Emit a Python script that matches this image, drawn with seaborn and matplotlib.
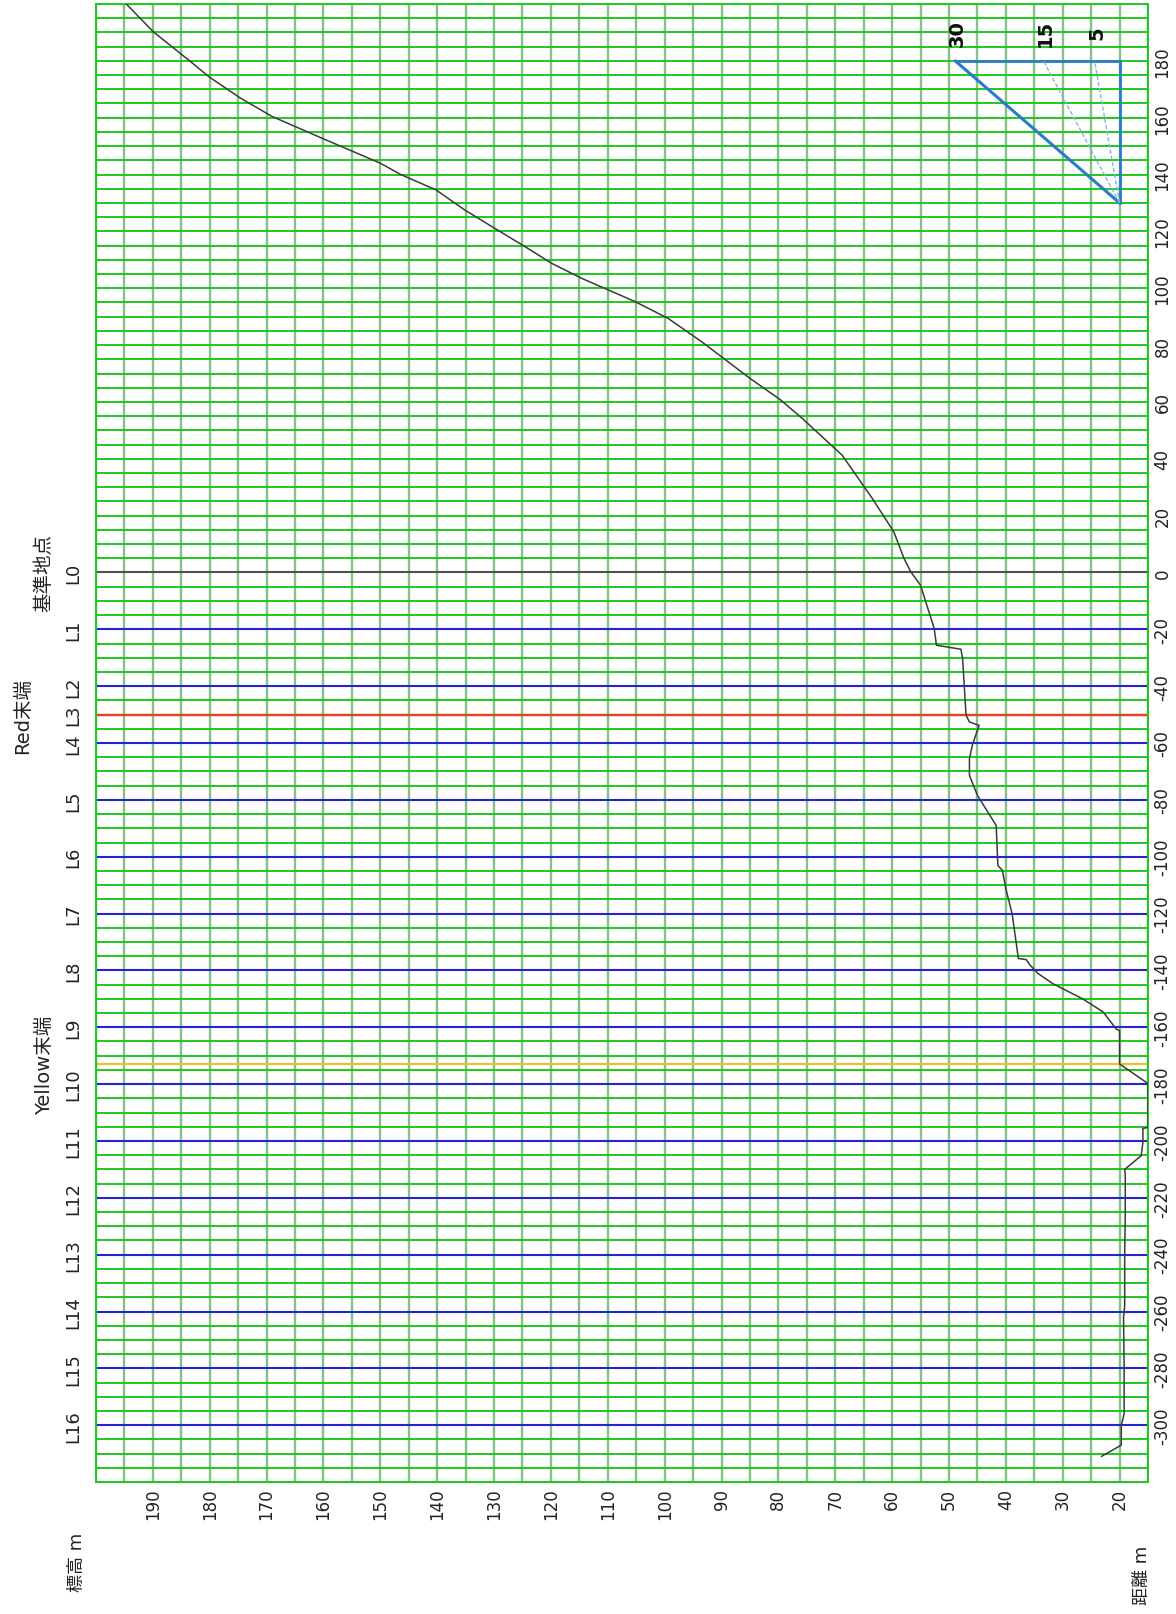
import matplotlib
matplotlib.use("Agg")
import matplotlib.pyplot as plt
from matplotlib.ticker import MultipleLocator, FixedLocator
import pandas as pd
import seaborn as sns

# ---------------- data ----------------
profile_distance = [-311, -307, -300, -296, -280, -262, -258, -240, -225, -212, -210,
                    -205.2, -200.5, -195.6, -195.2, -180, -179.4, -172.9, -161.2, -160.6,
                    -154.6, -150, -144.7, -141, -138, -136.2, -135.8, -130, -120, -111.3,
                    -104.8, -103.1, -89, -78.4, -71.4, -65.5, -60.8, -53.8, -52.6, -50.2,
                    -30.3, -27.0, -25.6, -19.7, -4.5, 0.2, 4.9, 14.3, 26.1, 41.3, 54.2,
                    60.7, 68.3, 81.2, 89.4, 95.3, 99.4, 103.5, 108.8, 114.7, 121.1, 127.6,
                    134.6, 140, 144.0, 153, 160.4, 166.9, 174.5, 179.8, 190.2, 200.5]
profile_elevation = [23.2, 19.7, 19.7, 19.2, 19.2, 19.3, 19.1, 19.1, 19.0, 19.0, 19.1,
                     16.2, 15.9, 15.9, 15.0, 15.0, 15.3, 20.0, 20.0, 20.6,
                     22.9, 26.5, 31.7, 34.4, 35.8, 36.4, 37.8, 38.2, 38.9, 40.0,
                     40.6, 41.4, 41.7, 45.0, 46.4, 46.4, 45.9, 44.7, 46.4, 47.0,
                     47.6, 47.9, 52.2, 52.6, 55.0, 56.7, 57.9, 59.7, 63.5, 68.8, 75.8,
                     79.6, 85.0, 93.5, 99.4, 105.2, 109.9, 114.6, 119.9, 124.6, 129.9, 135.2,
                     140.2, 146.4, 150.0, 160.5, 169.0, 174.6, 180.2, 183.4, 189.9, 194.9]

section_names = ["L0", "L1", "L2", "L3", "L4", "L5", "L6", "L7", "L8", "L9", "L10",
                 "L11", "L12", "L13", "L14", "L15", "L16"]
section_distance = [0, -20, -40, -50, -60, -80, -100, -120, -140, -160, -180,
                    -200, -220, -240, -260, -280, -300]

marker_names = ["基準地点", "Red末端", "Yellow末端"]
marker_distance = [0, -50, -173]

elev_ticks = list(range(20, 200, 10))
dist_ticks = list(range(-300, 200, 20))

slope_labels = ["30", "15", "5"]
slope_top_elevation = [48.9, 33.4, 24.4]
slope_base_elevation = 20
slope_base_distance = 130
slope_top_distance = 180

# ---------------- style ----------------
sns.set_theme(style="white")
plt.rcParams["font.family"] = ["DejaVu Sans", "Noto Sans CJK JP"]
plt.rcParams["axes.unicode_minus"] = False

fig = plt.figure(figsize=(11.76, 16.15), dpi=100)
ax = fig.add_axes([0.0816, 0.0817, 0.8946, 0.9152])

GREEN_H = "#1ec81e"
GREEN_V = "#86c286"
BLUE = "#2424d4"

ax.set_xlim(200, 15)
ax.set_ylim(-320, 200)

ax.xaxis.set_major_locator(FixedLocator(elev_ticks))
ax.xaxis.set_minor_locator(MultipleLocator(5))
ax.yaxis.set_major_locator(FixedLocator(dist_ticks))
ax.yaxis.set_minor_locator(MultipleLocator(5))
ax.set_xticklabels([str(v) for v in elev_ticks])
ax.set_yticklabels([str(v) for v in dist_ticks])

ax.grid(which="both", axis="y", color=GREEN_H, lw=1.4)
ax.grid(which="both", axis="x", color=GREEN_V, lw=1.7)
ax.set_axisbelow(True)
for s in ax.spines.values():
    s.set_color(GREEN_H)
    s.set_linewidth(1.4)

ax.yaxis.tick_right()
ax.tick_params(axis="both", which="both", length=0)
ax.tick_params(axis="x", labelrotation=90, labelsize=12, pad=4, colors="#222222")
ax.tick_params(axis="y", labelrotation=90, labelsize=12, pad=4, colors="#222222")
for lab in ax.get_yticklabels():
    lab.set_verticalalignment("center")

# section lines
for name, d in zip(section_names, section_distance):
    c = "#505050" if name == "L0" else BLUE
    ax.axhline(d, color=c, lw=1.5, zorder=2)
    ax.text(-0.0219, d, name, transform=ax.get_yaxis_transform(), rotation=90,
            ha="center", va="center", fontsize=13, color="#222222", clip_on=False)

# marker lines
marker_colors = ["#505050", "#e04818", "#e8c430"]
marker_x = [-0.0494, -0.0694, -0.0485]
for name, d, c, xx in zip(marker_names, marker_distance, marker_colors, marker_x):
    if name != "基準地点":
        ax.axhline(d, color=c, lw=1.7, zorder=2.5)
    ax.text(xx, d, name, transform=ax.get_yaxis_transform(), rotation=90,
            ha="center", va="center", fontsize=14, color="#222222", clip_on=False)

# profile
df = pd.DataFrame({"elevation": profile_elevation, "distance": profile_distance})
sns.lineplot(data=df, x="elevation", y="distance", sort=False, estimator=None,
             orient="y", color="#3a3a3a", lw=1.1, ax=ax, zorder=4)
ax.set_xlabel("")
ax.set_ylabel("")

# slope guide triangle
tri_blue = "#2a7cc6"
ax.plot([slope_top_elevation[0], slope_base_elevation], [slope_top_distance, slope_top_distance],
        color=tri_blue, lw=2.0, zorder=5)
ax.plot([slope_base_elevation, slope_base_elevation], [slope_top_distance, slope_base_distance],
        color=tri_blue, lw=2.0, zorder=5)
for i, (lab, te) in enumerate(zip(slope_labels, slope_top_elevation)):
    ax.plot([slope_base_elevation, te], [slope_base_distance, slope_top_distance],
            color=tri_blue if i == 0 else "#8ab4dc", lw=2.2 if i == 0 else 1.0,
            ls="-" if i == 0 else (0, (3, 1.5)), zorder=5)
    ax.text(te - 0.4, 190, lab, rotation=90, ha="center", va="center",
            fontsize=14, fontweight="bold", color="#111111", zorder=6)

# axis titles
fig.text(77 / 1176, 1 - 1562 / 1615, "標高 m", rotation=90, ha="center", va="center",
         fontsize=13, color="#222222")
fig.text(1142 / 1176, 1 - 1575 / 1615, "距離 m", rotation=90, ha="center", va="center",
         fontsize=13, color="#222222")

fig.savefig("out.png", dpi=100, facecolor="white")
